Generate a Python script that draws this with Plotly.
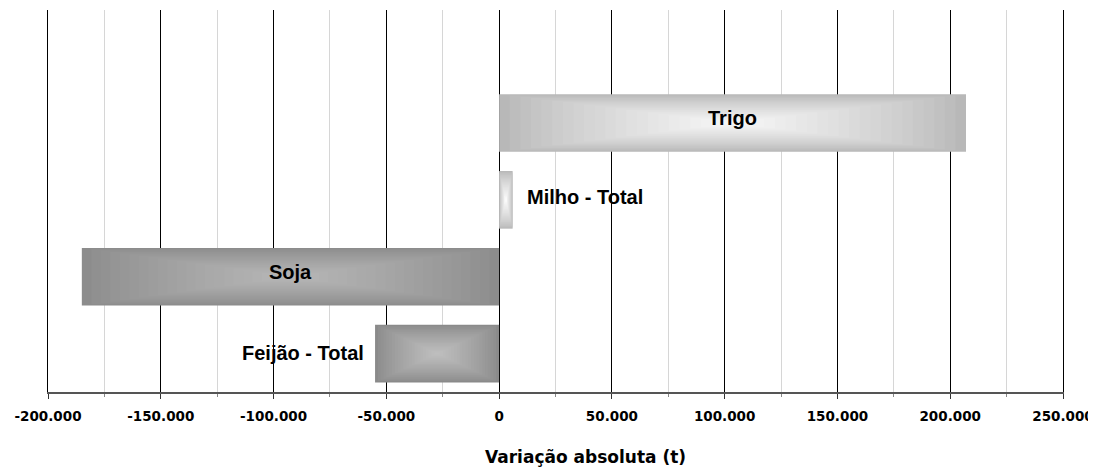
import plotly.graph_objects as go

# ---- data ----
categories = ["Feijão - Total", "Soja", "Milho - Total", "Trigo"]
values = [-55000, -185000, 6000, 207000]
tick_values = [-200000, -150000, -100000, -50000, 0, 50000, 100000, 150000, 200000, 250000]
tick_labels = [f"{v:,}".replace(",", ".") for v in tick_values]
axis_title = "Variação absoluta (t)"

# ---- styling ----
edge_colors = [(0x8a, 0x8a, 0x8a), (0x8c, 0x8c, 0x8c), (0xb9, 0xb9, 0xb9), (0xb8, 0xb8, 0xb8)]
center_colors = [(0xbe, 0xbe, 0xbe), (0xb6, 0xb6, 0xb6), (0xfa, 0xfa, 0xfa), (0xf6, 0xf6, 0xf6)]
bar_width = 0.75
n_layers = 22

def mix(c1, c2, t):
    return "rgb({},{},{})".format(*[round(a + (b - a) * t) for a, b in zip(c1, c2)])

fig = go.Figure()
for k in range(n_layers):
    f = 0.5 * k / n_layers          # shrink fraction on each side
    t = (k / (n_layers - 1)) ** 0.8
    fig.add_trace(go.Bar(
        y=categories,
        x=[v * (1 - 2 * f) for v in values],
        base=[v * f for v in values],
        width=bar_width * (1 - 2 * f),
        orientation="h",
        marker=dict(color=[mix(e, c, t) for e, c in zip(edge_colors, center_colors)],
                    line=dict(width=0)),
        hoverinfo="skip",
        showlegend=False,
    ))

label_font = dict(family="Liberation Sans", size=20, color="black", weight="bold")
annotations = []
inside = {"Trigo", "Soja"}
for cat, v in zip(categories, values):
    if cat in inside:
        annotations.append(dict(x=v / 2, y=cat, xref="x", yref="y", text=cat,
                                showarrow=False, font=label_font, xanchor="center",
                                yshift=5))
    elif v >= 0:
        annotations.append(dict(x=v, y=cat, xref="x", yref="y", text=cat,
                                showarrow=False, font=label_font, xanchor="left",
                                xshift=12, yshift=3))
    else:
        annotations.append(dict(x=v, y=cat, xref="x", yref="y", text=cat,
                                showarrow=False, font=label_font, xanchor="right",
                                xshift=-9, yshift=1))

annotations.append(dict(x=0.53, y=-0.17, xref="paper", yref="paper", text=axis_title,
                        showarrow=False, xanchor="center", yanchor="middle",
                        font=dict(family="DejaVu Sans", size=17, color="black", weight="bold")))

fig.update_layout(
    width=1096, height=470,
    margin=dict(l=40, r=41, t=2, b=86),
    paper_bgcolor="white", plot_bgcolor="white",
    barmode="overlay",
    annotations=annotations,
    xaxis=dict(
        range=[-200000, 250000],
        tickvals=tick_values, ticktext=tick_labels,
        tickfont=dict(family="DejaVu Sans", size=13.5, color="black", weight="bold"),
        showgrid=True, gridcolor="black", gridwidth=1,
        zeroline=True, zerolinecolor="black", zerolinewidth=1,
        showline=True, linecolor="#555555", linewidth=1.5,
        ticks="outside", ticklen=5, tickcolor="#333333",
        ticklabelstandoff=6,
        automargin=False,
        minor=dict(dtick=25000, tick0=0, showgrid=True, gridcolor="#d6d6d6", gridwidth=1,
                   ticks="outside", ticklen=3, tickcolor="#888888"),
    ),
    yaxis=dict(
        categoryorder="array", categoryarray=categories,
        range=[-0.5, 4.47],
        showticklabels=False, showgrid=False, zeroline=False,
        showline=True, mirror=True, linecolor="black", linewidth=1,
        ticks="",
    ),
)

fig.write_html("out.html")
